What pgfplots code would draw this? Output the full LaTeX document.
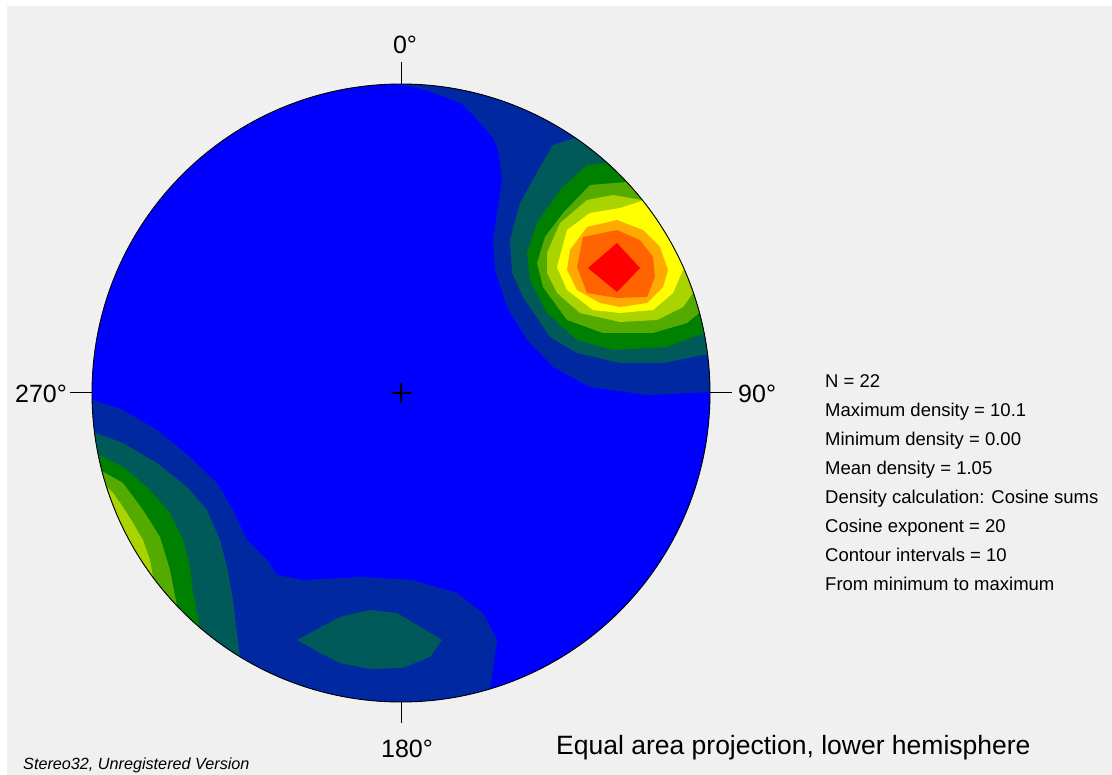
\documentclass[border=0pt]{standalone}
\usepackage{pgfplots}
\pgfplotsset{compat=1.18}
\usepackage{fontspec}
\setmainfont{Liberation Sans}
\definecolor{bggray}{HTML}{F0F0F0}
\definecolor{c1}{HTML}{0000FF}
\definecolor{c2}{HTML}{0028A0}
\definecolor{c3}{HTML}{005A5A}
\definecolor{c4}{HTML}{008000}
\definecolor{c5}{HTML}{55AA00}
\definecolor{c6}{HTML}{AAD400}
\definecolor{c7}{HTML}{FFFF00}
\definecolor{c8}{HTML}{FFAA00}
\definecolor{c9}{HTML}{FF6400}
\definecolor{c10}{HTML}{FF0000}
\begin{document}
\begin{tikzpicture}
\begin{axis}[scale only axis, width=1112pt, height=775pt,
  xmin=0, xmax=1112, ymin=0, ymax=775, y dir=reverse,
  hide axis, clip=false, no markers]
% background
\addplot[fill=white, draw=none] coordinates {(0,0)(1112,0)(1112,775)(0,775)} -- cycle;
\addplot[fill=bggray, draw=none] coordinates {(7,6)(1112,6)(1112,775)(7,775)} -- cycle;
\begin{scope}
\clip (axis cs:401,393) circle [radius=309pt];
% level 1
\addplot[fill=c1, draw=none] coordinates {(60,60)(760,60)(760,760)(60,760)} -- cycle;
% NE cluster
\addplot[fill=c2, draw=none] coordinates {(397,84)(425,90)(461,103)(475,117)(480,123)(493,138)(498,150)(502,180)(497,213)(493,240)(495,270)(507,307)(527,340)(553,367)(590,387)(647,395)(710,392)(740,392)(740,60)(397,60)} -- cycle;
\addplot[fill=c3, draw=none] coordinates {(575,138)(553,145)(540,167)(520,203)(510,240)(512,273)(523,297)(550,337)(577,353)(620,363)(663,363)(703,355)(740,355)(740,100)(575,100)} -- cycle;
\addplot[fill=c4, draw=none] coordinates {(608,163)(587,165)(560,190)(537,223)(527,253)(530,280)(547,313)(577,340)(613,350)(667,347)(704,333)(740,333)(740,120)(608,120)} -- cycle;
\addplot[fill=c5, draw=none] coordinates {(627,182)(590,185)(563,213)(545,237)(537,263)(543,287)(567,320)(603,333)(653,333)(687,323)(699,313)(740,313)(740,140)(627,140)} -- cycle;
\addplot[fill=c6, draw=none] coordinates {(642,200)(613,195)(587,200)(560,223)(547,253)(547,273)(557,293)(580,313)(620,322)(657,320)(683,307)(693,293)(740,293)(740,160)(642,160)} -- cycle;
\addplot[fill=c7, draw=none] coordinates {(620,208)(590,213)(567,230)(557,267)(567,290)(593,310)(620,313)(653,310)(673,293)(683,270)(710,270)(710,200)(645,200)} -- cycle;
\addplot[fill=c8, draw=none] coordinates {(617,220)(587,227)(570,250)(567,270)(577,290)(600,303)(620,307)(647,303)(663,287)(668,270)(660,247)(643,230)} -- cycle;
\addplot[fill=c9, draw=none] coordinates {(617,230)(583,237)(577,267)(587,293)(617,298)(647,297)(655,277)(653,257)(640,240)} -- cycle;
\addplot[fill=c10, draw=none] coordinates {(617,243)(588,268)(617,292)(640,268)} -- cycle;
% SW cluster
\addplot[fill=c2, draw=none] coordinates {(93,400)(123,410)(157,430)(190,457)(217,483)(233,510)(247,540)(267,560)(277,575)(303,580)(363,577)(413,580)(457,593)(483,613)(497,640)(493,670)(490,690)(490,760)(60,760)(60,400)} -- cycle;
\addplot[fill=c3, draw=none] coordinates {(93,432)(123,443)(157,463)(187,487)(207,510)(220,540)(227,567)(233,600)(237,633)(240,657)(240,760)(60,760)(60,432)} -- cycle;
\addplot[fill=c4, draw=none] coordinates {(95,453)(123,467)(147,487)(170,513)(183,540)(190,567)(193,593)(200,628)(200,760)(60,760)(60,453)} -- cycle;
\addplot[fill=c5, draw=none] coordinates {(100,470)(123,483)(143,510)(160,537)(170,570)(177,606)(177,760)(60,760)(60,470)} -- cycle;
\addplot[fill=c6, draw=none] coordinates {(103,483)(113,493)(123,507)(133,523)(143,540)(150,560)(153,577)(153,760)(60,760)(60,483)} -- cycle;
% S lens
\addplot[fill=c3, draw=none] coordinates {(297,640)(340,617)(370,610)(397,613)(417,625)(442,640)(430,657)(403,668)(370,669)(340,663)(320,653)} -- cycle;
\end{scope}
\draw[black, line width=0.9pt] (axis cs:401,393) circle [radius=309pt];
% ticks
\addplot[black, line width=1pt] coordinates {(401,62)(401,84)};
\addplot[black, line width=1pt] coordinates {(401,702)(401,723)};
\addplot[black, line width=1pt] coordinates {(70,393)(92,393)};
\addplot[black, line width=1pt] coordinates {(710,393)(732,393)};
\addplot[black, line width=1.2pt] coordinates {(392,393)(411,393)};
\addplot[black, line width=1.2pt] coordinates {(401,383)(401,403)};
% labels
\node[anchor=base, inner sep=0pt, font=\fontsize{25}{30}\selectfont] at (axis cs:405,54) {0°};
\node[anchor=base, inner sep=0pt, font=\fontsize{25}{30}\selectfont] at (axis cs:407,757) {180°};
\node[anchor=base west, inner sep=0pt, font=\fontsize{25}{30}\selectfont] at (axis cs:15,403) {270°};
\node[anchor=base west, inner sep=0pt, font=\fontsize{25}{30}\selectfont] at (axis cs:738,403) {90°};
\node[anchor=base west, inner sep=0pt, font=\fontsize{26.5}{30}\selectfont] at (axis cs:556,754) {Equal area projection, lower hemisphere};
\node[anchor=base west, inner sep=0pt, font=\fontsize{16.2}{18}\selectfont\itshape] at (axis cs:23,769) {Stereo32, Unregistered Version};
\node[anchor=north west, inner sep=0pt, align=left, font=\fontsize{18.5}{29}\selectfont] at (axis cs:825,374) {N = 22\\Maximum density = 10.1\\Minimum density = 0.00\\Mean density = 1.05\\Density calculation: Cosine sums\\Cosine exponent = 20\\Contour intervals = 10\\From minimum to maximum};
\end{axis}
\end{tikzpicture}
\end{document}
